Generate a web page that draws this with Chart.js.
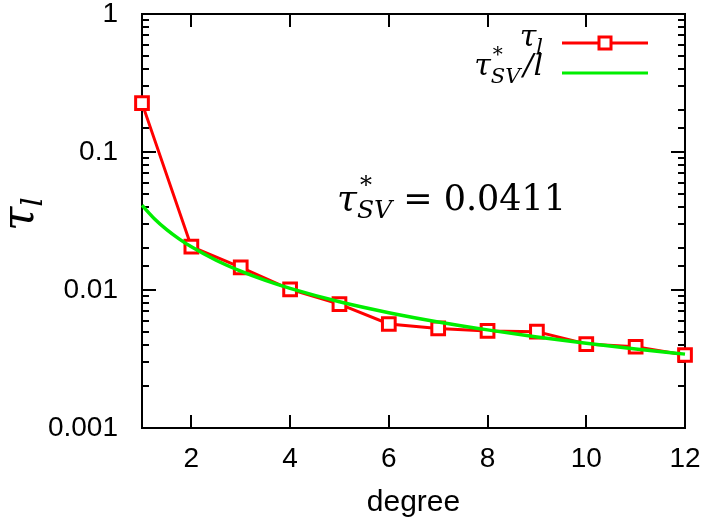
<!DOCTYPE html>
<html lang="en">
<head>
    <meta charset="UTF-8">
    <title>tau_l vs degree</title>
    <script src="https://cdn.jsdelivr.net/npm/chart.js"></script>
    <style>
        body { margin: 0; background: #fff; }
        canvas { display: block; }
    </style>
</head>
<body>
    <canvas id="tauChart" width="707" height="524"></canvas>
    <script>
        // data
        const degrees = [1, 2, 3, 4, 5, 6, 7, 8, 9, 10, 11, 12];
        const tauL = [0.226, 0.0206, 0.0146, 0.0101, 0.0079, 0.00567, 0.00527, 0.00505, 0.00499, 0.00406, 0.00388, 0.00338];
        // fitted curve tau*_SV / l
        const fitX = [1, 1.25, 1.5, 1.75, 2, 2.5, 3, 3.5, 4, 5, 6, 7, 8, 9, 10, 11, 12];
        const fitY = [0.0411, 0.03288, 0.0274, 0.02349, 0.02055, 0.01644, 0.0137, 0.01174, 0.01028, 0.00822, 0.00685, 0.00587, 0.00514, 0.00457, 0.00411, 0.00374, 0.00343];
        const xTicks = [2, 4, 6, 8, 10, 12];
        const yTickLabels = ['0.001', '0.01', '0.1', '1'];

        const RED = '#ff0000';
        const GREEN = '#00ee00';
        const MATH = '"DejaVu Serif", "Liberation Serif", serif';

        const isDecade = v => Math.abs(Math.log10(v) - Math.round(Math.log10(v))) < 1e-6;

        // draw a run of math pieces; sup pieces do not advance x
        const mathWidth = (ctx, parts) => {
            let w = 0;
            parts.forEach(p => {
                ctx.font = p.f;
                if (!p.noAdvance) w += ctx.measureText(p.t).width + (p.gap || 0);
            });
            return w;
        };
        const drawMath = (ctx, x, y, parts, align) => {
            const w = mathWidth(ctx, parts);
            let cx = align === 'right' ? x - w : (align === 'center' ? x - w / 2 : x);
            ctx.textBaseline = 'alphabetic';
            ctx.textAlign = 'left';
            parts.forEach(p => {
                ctx.font = p.f;
                cx += p.gap || 0;
                ctx.fillText(p.t, cx + (p.dx || 0), y + (p.dy || 0));
                if (!p.noAdvance) cx += ctx.measureText(p.t).width;
            });
        };

        const framePlugin = {
            id: 'frame',
            beforeDatasetsDraw(chart) {
                const { ctx, chartArea: a, scales } = chart;
                ctx.save();
                ctx.strokeStyle = '#000';
                ctx.lineWidth = 2;
                ctx.strokeRect(a.left, a.top, a.right - a.left, a.bottom - a.top);
                ctx.beginPath();
                scales.y.ticks.forEach(t => {
                    const py = Math.round(scales.y.getPixelForValue(t.value));
                    const len = isDecade(t.value) ? 14 : 7;
                    ctx.moveTo(a.left, py); ctx.lineTo(a.left + len, py);
                    ctx.moveTo(a.right, py); ctx.lineTo(a.right - len, py);
                });
                xTicks.forEach(v => {
                    const px = Math.round(scales.x.getPixelForValue(v));
                    ctx.moveTo(px, a.bottom); ctx.lineTo(px, a.bottom - 13);
                    ctx.moveTo(px, a.top); ctx.lineTo(px, a.top + 13);
                });
                ctx.stroke();
                ctx.restore();
            },
            afterDraw(chart) {
                const { ctx } = chart;
                ctx.save();
                ctx.fillStyle = '#000';

                // legend
                const big = 'italic 30px ' + MATH;
                const small = 'italic 21px ' + MATH;
                drawMath(ctx, 543, 46, [
                    { t: '\u03c4', f: big },
                    { t: 'l', f: small, dy: 7 }
                ], 'right');
                drawMath(ctx, 543, 75, [
                    { t: '\u03c4', f: big },
                    { t: '*', f: '20px ' + MATH, dy: -14, dx: 2, noAdvance: true },
                    { t: 'SV', f: small, dy: 8 },
                    { t: '/l', f: big, gap: 3 }
                ], 'right');

                ctx.lineWidth = 3;
                ctx.strokeStyle = RED;
                ctx.beginPath(); ctx.moveTo(562, 43); ctx.lineTo(648, 43); ctx.stroke();
                ctx.fillStyle = '#fff';
                ctx.fillRect(599, 37, 12, 12);
                ctx.strokeRect(599, 37, 12, 12);
                ctx.strokeStyle = GREEN;
                ctx.beginPath(); ctx.moveTo(562, 73); ctx.lineTo(648, 73); ctx.stroke();

                // annotation
                ctx.fillStyle = '#000';
                drawMath(ctx, 337, 210, [
                    { t: '\u03c4', f: 'italic 36px ' + MATH },
                    { t: '*', f: '24px ' + MATH, dy: -17, dx: 3, noAdvance: true },
                    { t: 'SV', f: 'italic 25px ' + MATH, dy: 8 },
                    { t: ' = ', f: '35px ' + MATH },
                    { t: '0.0411', f: '35px ' + MATH }
                ], 'left');

                // y axis title
                ctx.translate(33, 214);
                ctx.rotate(-Math.PI / 2);
                drawMath(ctx, 0, 0, [
                    { t: '\u03c4', f: 'italic 44px ' + MATH },
                    { t: 'l', f: 'italic 30px ' + MATH, dy: 9 }
                ], 'center');
                ctx.restore();
            }
        };

        new Chart(document.getElementById('tauChart').getContext('2d'), {
            type: 'line',
            data: {
                datasets: [
                    {
                        label: 'tau_l',
                        data: degrees.map((d, i) => ({ x: d, y: tauL[i] })),
                        borderColor: RED,
                        borderWidth: 3,
                        pointStyle: 'rect',
                        pointRadius: 9,
                        pointBorderWidth: 3,
                        pointBackgroundColor: '#fff',
                        pointBorderColor: RED,
                        tension: 0,
                        clip: false,
                        order: 1
                    },
                    {
                        label: 'tau*_SV / l',
                        data: fitX.map((d, i) => ({ x: d, y: fitY[i] })),
                        borderColor: GREEN,
                        borderWidth: 3.5,
                        pointRadius: 0,
                        cubicInterpolationMode: 'monotone',
                        clip: false,
                        order: 0
                    }
                ]
            },
            options: {
                responsive: false,
                animation: false,
                devicePixelRatio: 1,
                layout: { padding: { top: 14, right: 22, left: 0, bottom: 0 } },
                plugins: { legend: { display: false }, tooltip: { enabled: false } },
                scales: {
                    x: {
                        type: 'linear',
                        min: 1,
                        max: 12,
                        grid: { display: false, drawTicks: false },
                        border: { display: false },
                        afterBuildTicks: s => { s.ticks = xTicks.map(v => ({ value: v })); },
                        afterFit: s => { s.height = 96; s.paddingLeft = 0; s.paddingRight = 0; },
                        ticks: {
                            autoSkip: false,
                            maxRotation: 0,
                            padding: 17,
                            color: '#000',
                            font: { family: 'Liberation Sans', size: 28, lineHeight: 1 }
                        },
                        title: {
                            display: true,
                            text: 'degree',
                            color: '#000',
                            font: { family: 'Liberation Sans', size: 30, lineHeight: 1.2 },
                            padding: { top: 0, bottom: 3 }
                        }
                    },
                    y: {
                        type: 'logarithmic',
                        min: 0.001,
                        max: 1,
                        grid: { display: false, drawTicks: false },
                        border: { display: false },
                        afterFit: s => { s.width = 142; s.paddingTop = 0; s.paddingBottom = 0; },
                        ticks: {
                            autoSkip: false,
                            padding: 24,
                            color: '#000',
                            font: { family: 'Liberation Sans', size: 28, lineHeight: 1 },
                            callback: v => isDecade(v) ? yTickLabels[Math.round(Math.log10(v)) + 3] : ''
                        }
                    }
                }
            },
            plugins: [framePlugin]
        });
    </script>
</body>
</html>
